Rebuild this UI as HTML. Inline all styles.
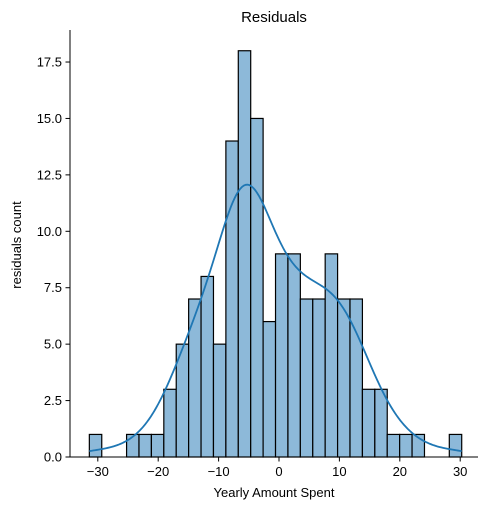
<!DOCTYPE html>
<html><head><meta charset="utf-8"><style>
body{margin:0;background:#fff;}
text{font-family:"Liberation Sans","DejaVu Sans",sans-serif;fill:#000;}
</style></head><body>
<svg id="chart" width="490" height="510" xmlns="http://www.w3.org/2000/svg">
<text x="274" y="22" text-anchor="middle" font-size="15">Residuals</text>
<text x="274" y="497" text-anchor="middle" font-size="13">Yearly Amount Spent</text>
<text transform="translate(21,245) rotate(-90)" text-anchor="middle" font-size="13">residuals count</text>
<g id="bars"></g><g id="kde"></g><g id="axes"></g>
</svg>
<script>
const counts=[1,0,0,1,1,1,3,5,7,8,5,14,18,15,6,9,9,7,7,9,7,7,3,3,1,1,1,0,0,1];
const binStart=-31.4;
const binWidth=2.055;
const xTicks=[-30,-20,-10,0,10,20,30];
const yTicks=[0,2.5,5,7.5,10,12.5,15,17.5];
const yTickLabels=["0.0","2.5","5.0","7.5","10.0","12.5","15.0","17.5"];
const NS="http://www.w3.org/2000/svg";
const X=v=>279+v*6.04;
const Y=v=>457-v*22.57;
function mk(tag,attrs,parent){const e=document.createElementNS(NS,tag);for(const k in attrs)e.setAttribute(k,attrs[k]);parent.appendChild(e);return e;}
const gb=document.getElementById('bars');
counts.forEach((c,i)=>{if(c<=0)return;
const x0=X(binStart+i*binWidth),x1=X(binStart+(i+1)*binWidth);
const r=mk('rect',{x:x0,y:Y(c),width:x1-x0,height:Y(0)-Y(c),fill:'#8db9d9',stroke:'#000','stroke-width':1.2},gb);

});
// KDE from binned data
let n=0,s=0,ss=0;counts.forEach((c,i)=>{const m=binStart+(i+0.5)*binWidth;n+=c;s+=c*m;ss+=c*m*m;});
const mean=s/n,sd=Math.sqrt(ss/n-mean*mean),bw=sd*Math.pow(n,-0.2);
let d='';const lo=binStart+0.5*binWidth*0.2,hi=binStart+30*binWidth;
for(let k=0;k<=200;k++){const x=binStart+(hi-binStart)*k/200;let dens=0;
counts.forEach((c,i)=>{const m=binStart+(i+0.5)*binWidth;const z=(x-m)/bw;dens+=c*Math.exp(-0.5*z*z);});
dens=dens/(n*bw*Math.sqrt(2*Math.PI))*n*binWidth;
d+=(k?'L':'M')+X(x).toFixed(2)+','+Y(dens).toFixed(2);}
const kp=mk('path',{d:d,fill:'none',stroke:'#1f77b4','stroke-width':1.8},document.getElementById('kde'));


const ga=document.getElementById('axes');
const ya=mk('line',{x1:70,y1:30,x2:70,y2:457.5,stroke:'#000','stroke-width':1},ga);


const xa=mk('line',{x1:69.5,y1:457,x2:478,y2:457,stroke:'#000','stroke-width':1},ga);


xTicks.forEach(v=>{mk('line',{x1:X(v),y1:457,x2:X(v),y2:461.5,stroke:'#000'},ga);
const t=mk('text',{x:X(v),y:476,'text-anchor':'middle','font-size':13},ga);t.textContent=(v<0?'\u2212':'')+Math.abs(v);

});
yTicks.forEach((v,i)=>{mk('line',{x1:65.5,y1:Y(v),x2:70,y2:Y(v),stroke:'#000'},ga);
const t=mk('text',{x:62,y:Y(v)+4.5,'text-anchor':'end','font-size':13},ga);t.textContent=yTickLabels[i];

});
</script>
</body></html>
